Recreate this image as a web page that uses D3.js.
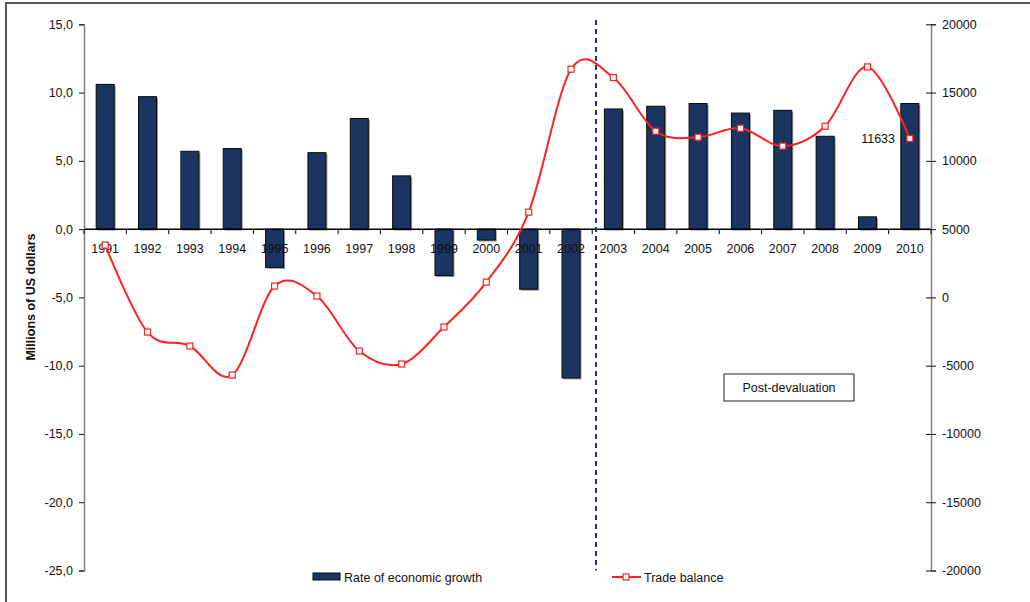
<!DOCTYPE html>
<html>
<head>
<meta charset="utf-8">
<script src="https://cdn.jsdelivr.net/npm/d3@7"></script>
<style>
  body { margin: 0; background: #fff; }
  text { font-family: "Liberation Sans", Arial, sans-serif; fill: #111; }
</style>
</head>
<body>
<svg width="1030" height="602"></svg>
<script>
// chart data
const years = ["1991","1992","1993","1994","1995","1996","1997","1998","1999","2000",
               "2001","2002","2003","2004","2005","2006","2007","2008","2009","2010"];
const growth = [10.6, 9.7, 5.7, 5.9, -2.8, 5.6, 8.1, 3.9, -3.4, -0.8,
                -4.4, -10.9, 8.8, 9.0, 9.2, 8.5, 8.7, 6.8, 0.9, 9.2];
const tradeBalance = [3830, -2540, -3560, -5690, 830, 100, -3930, -4880, -2170, 1120,
                      6240, 16710, 16100, 12170, 11730, 12390, 11080, 12540, 16880, 11633];
const leftTicks = [15, 10, 5, 0, -5, -10, -15, -20, -25];
const rightTicks = [20000, 15000, 10000, 5000, 0, -5000, -10000, -15000, -20000];

const svg = d3.select("svg");
const plotLeft = 84, plotRight = 931, plotTop = 24.3, plotBottom = 570.5;
const fs = 12.5;

// outer frame (cropped on right/bottom)
svg.append("rect")
  .attr("x", 6).attr("y", 3).attr("width", 1040).attr("height", 620)
  .attr("fill", "none").attr("stroke", "#222").attr("stroke-width", 1.5);

const x = d3.scaleBand().domain(years).range([plotLeft, plotRight]).paddingInner(0).paddingOuter(0);
const yL = d3.scaleLinear().domain([-25, 15]).range([plotBottom, plotTop]);
const yR = d3.scaleLinear().domain([-20000, 20000]).range([plotBottom, plotTop]);

const fmt = d => d3.format(".1f")(d).replace(".", ",").replace("−", "-");

// left axis
const gL = svg.append("g").attr("transform", `translate(${plotLeft},0)`)
  .call(d3.axisLeft(yL).tickValues(leftTicks).tickSize(5).tickPadding(6).tickFormat(fmt));
gL.select(".domain").attr("stroke", "#808080").attr("stroke-width", 1.5);
gL.selectAll(".tick line").attr("stroke", "#111");
gL.selectAll(".tick text").attr("font-size", fs).style("font-family", "Liberation Sans, Arial, sans-serif").attr("fill", "#111");

// right axis
const gR = svg.append("g").attr("transform", `translate(${plotRight},0)`)
  .call(d3.axisRight(yR).tickValues(rightTicks).tickSize(5).tickPadding(6)
    .tickFormat(d => String(d)));
gR.select(".domain").attr("stroke", "#808080").attr("stroke-width", 1.5);
gR.selectAll(".tick line").attr("stroke", "#111").attr("x1", -5);
gR.selectAll(".tick text").attr("font-size", fs).style("font-family", "Liberation Sans, Arial, sans-serif").attr("fill", "#111");

// y axis title
svg.append("text")
  .attr("transform", `translate(35,297) rotate(-90)`)
  .attr("text-anchor", "middle")
  .attr("font-size", fs).attr("font-weight", "bold")
  .text("Millions of US dollars");

// bars
const barW = 18;
const bars = svg.append("g");
bars.selectAll("rect.shadow")
  .data(growth)
  .join("rect")
  .attr("class", "shadow")
  .attr("x", (d, i) => x(years[i]) + x.bandwidth() / 2 - barW / 2 + 1.5)
  .attr("y", d => Math.min(yL(d), yL(0)) + 1.5)
  .attr("width", barW)
  .attr("height", d => Math.abs(yL(d) - yL(0)))
  .attr("fill", "#9a9a9a");
bars.selectAll("rect.bar")
  .data(growth)
  .join("rect")
  .attr("class", "bar")
  .attr("x", (d, i) => x(years[i]) + x.bandwidth() / 2 - barW / 2)
  .attr("y", d => Math.min(yL(d), yL(0)))
  .attr("width", barW)
  .attr("height", d => Math.abs(yL(d) - yL(0)))
  .attr("fill", "#1c3461")
  .attr("stroke", "#0a0a0a")
  .attr("stroke-width", 1);

// x axis at zero
const gX = svg.append("g").attr("transform", `translate(0,${yL(0)})`);
gX.append("line").attr("x1", plotLeft).attr("x2", plotRight).attr("stroke", "#000").attr("stroke-width", 1.5);
gX.selectAll("line.tk")
  .data(d3.range(years.length + 1))
  .join("line")
  .attr("class", "tk")
  .attr("x1", i => plotLeft + i * x.bandwidth()).attr("x2", i => plotLeft + i * x.bandwidth())
  .attr("y1", 0).attr("y2", 5).attr("stroke", "#000");
gX.selectAll("text")
  .data(years)
  .join("text")
  .attr("x", d => x(d) + x.bandwidth() / 2)
  .attr("y", 24)
  .attr("text-anchor", "middle")
  .attr("font-size", fs)
  .text(d => d);

// devaluation divider
svg.append("line")
  .attr("x1", 596).attr("x2", 596).attr("y1", 20).attr("y2", plotBottom)
  .attr("stroke", "#2b2b80").attr("stroke-width", 2).attr("stroke-dasharray", "5,4");

// trade balance line
const line = d3.line()
  .x((d, i) => x(years[i]) + x.bandwidth() / 2)
  .y(d => yR(d))
  .curve(d3.curveCardinal.tension(0));
svg.append("path")
  .datum(tradeBalance)
  .attr("d", line)
  .attr("fill", "none")
  .attr("stroke", "#ff2020")
  .attr("stroke-width", 2);
svg.selectAll("rect.mk")
  .data(tradeBalance)
  .join("rect")
  .attr("class", "mk")
  .attr("x", (d, i) => x(years[i]) + x.bandwidth() / 2 - 3)
  .attr("y", d => yR(d) - 3)
  .attr("width", 6).attr("height", 6)
  .attr("fill", "#fff").attr("stroke", "#ff2020").attr("stroke-width", 1.2);

// last value label
svg.append("text")
  .attr("x", 895).attr("y", yR(tradeBalance[19]) + 4)
  .attr("text-anchor", "end").attr("font-size", fs)
  .text(String(tradeBalance[19]));

// post-devaluation box
svg.append("rect")
  .attr("x", 724).attr("y", 374).attr("width", 130).attr("height", 27)
  .attr("fill", "#fff").attr("stroke", "#222").attr("stroke-width", 1);
svg.append("text")
  .attr("x", 789).attr("y", 392).attr("text-anchor", "middle").attr("font-size", fs)
  .text("Post-devaluation");

// legend
const lg = svg.append("g");
lg.append("rect").attr("x", 313).attr("y", 573).attr("width", 27).attr("height", 7)
  .attr("fill", "#1c3461").attr("stroke", "#0a0a0a");
lg.append("text").attr("x", 344).attr("y", 582).attr("font-size", fs).text("Rate of economic growth");
lg.append("line").attr("x1", 612).attr("x2", 641).attr("y1", 577).attr("y2", 577)
  .attr("stroke", "#ff2020").attr("stroke-width", 2);
lg.append("rect").attr("x", 623).attr("y", 574).attr("width", 6).attr("height", 6)
  .attr("fill", "#fff").attr("stroke", "#ff2020").attr("stroke-width", 1.2);
lg.append("text").attr("x", 644).attr("y", 582).attr("font-size", fs).text("Trade balance");
</script>
</body>
</html>
